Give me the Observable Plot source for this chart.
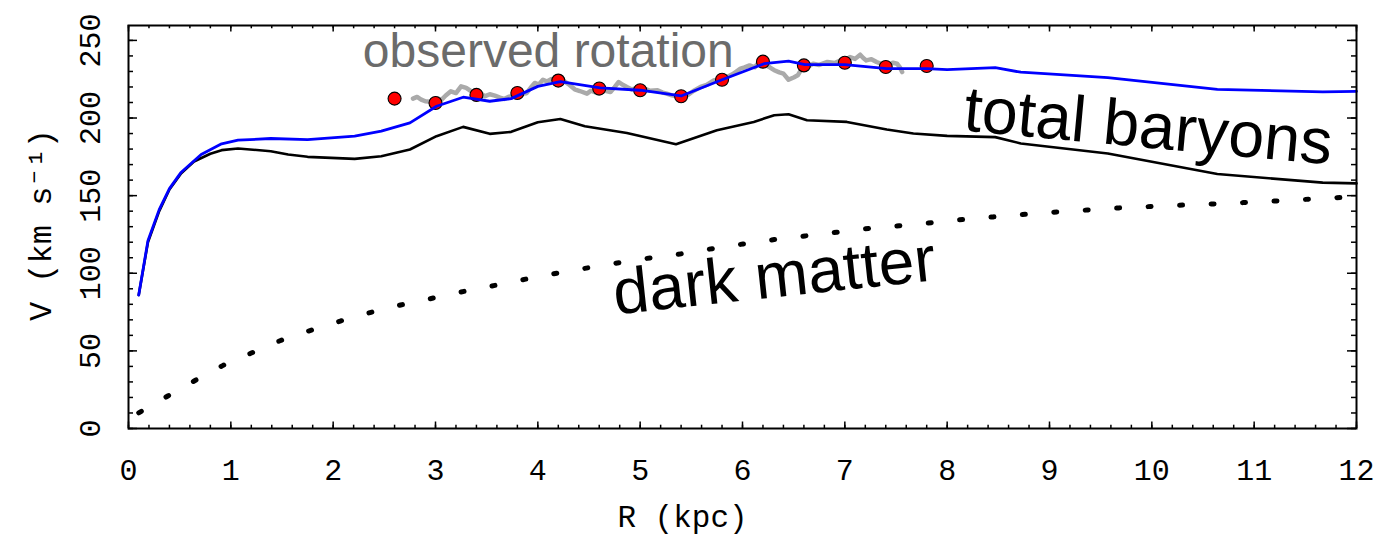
<!DOCTYPE html>
<html>
<head>
<meta charset="utf-8">
<script src="https://cdn.jsdelivr.net/npm/d3@7"></script>
<script src="https://cdn.jsdelivr.net/npm/@observablehq/plot@0.6"></script>
<style>
  html, body { margin: 0; padding: 0; background: #ffffff; }
  #chart svg { display: block; }
</style>
</head>
<body>
<div id="chart"></div>
<script>
// ---------- data ----------
const xTickValues = [0, 1, 2, 3, 4, 5, 6, 7, 8, 9, 10, 11, 12];
const yTickValues = [0, 50, 100, 150, 200, 250];

// dark matter (dotted)
const darkR = [0.1, 0.38, 0.65, 0.92, 1.2, 1.48, 1.78, 2.07, 2.37, 2.67, 2.99, 3.29, 3.59, 3.88, 4.19, 4.49, 4.8, 5.1, 5.4, 5.71, 5.98, 6.31, 6.61, 6.92, 7.23, 7.53, 7.85, 8.15, 8.45, 8.76, 9.07, 9.38, 9.68, 9.99, 10.3, 10.61, 10.92, 11.22, 11.53, 11.84, 12.0];
const darkV = [10.1, 20.8, 30.9, 40.5, 48.6, 56.5, 63.2, 69.2, 74.8, 79.7, 84.2, 88.5, 92.3, 96.2, 100.1, 103.5, 106.9, 109.9, 112.5, 115.9, 118.6, 121.7, 124.0, 126.4, 128.8, 130.6, 132.6, 134.6, 136.3, 138.0, 139.5, 140.8, 142.1, 143.0, 143.9, 144.7, 145.6, 146.6, 147.7, 148.8, 149.4];

// total baryons (black)
const baryR = [0.1, 0.19, 0.3, 0.4, 0.51, 0.64, 0.8, 0.91, 1.07, 1.39, 1.56, 1.75, 2.21, 2.47, 2.75, 3.01, 3.27, 3.53, 3.74, 4.0, 4.22, 4.46, 4.87, 5.35, 5.75, 6.11, 6.31, 6.45, 6.63, 7.02, 7.41, 7.67, 8.0, 8.47, 8.72, 9.57, 10.64, 11.67, 12.0];
const baryV = [86, 120, 140, 154, 164, 172, 177, 179.3, 180.4, 178.6, 176.5, 175, 173.7, 175.4, 179.7, 188.3, 194.3, 189.8, 191.1, 197.3, 199.4, 194.7, 190.4, 183.1, 192.1, 197.5, 201.8, 202.4, 198.6, 197.5, 192.6, 190, 188.5, 187.7, 183.6, 177.2, 163.9, 158.4, 157.9];

// total model (blue)
const totalR = [0.1, 0.19, 0.3, 0.4, 0.51, 0.71, 0.91, 1.07, 1.39, 1.75, 2.21, 2.47, 2.75, 3.01, 3.27, 3.53, 3.74, 4.0, 4.22, 4.61, 5.0, 5.4, 5.8, 6.21, 6.45, 6.61, 7.0, 7.41, 7.8, 8.0, 8.47, 8.72, 9.57, 10.64, 11.67, 12.0];
const totalV = [86, 121, 141, 154.5, 164.7, 176.5, 183.4, 185.7, 186.8, 186.1, 188.3, 191.5, 196.9, 207.6, 213.4, 210.8, 212.5, 220.4, 223.4, 219.4, 217.9, 214.2, 224.7, 235, 236.7, 234.4, 234.4, 231.8, 231.8, 231.2, 232.4, 229.5, 226, 218.5, 216.8, 217.2];

// observed rotation (grey, noisy)
const obsR = [2.78, 2.82, 2.86, 2.9, 2.96, 3.01, 3.06, 3.1, 3.15, 3.2, 3.25, 3.3, 3.34, 3.38, 3.43, 3.48, 3.53, 3.58, 3.63, 3.67, 3.72, 3.77, 3.83, 3.89, 3.93, 3.97, 4.01, 4.05, 4.09, 4.13, 4.18, 4.22, 4.26, 4.31, 4.36, 4.41, 4.48, 4.52, 4.55, 4.6, 4.65, 4.71, 4.75, 4.79, 4.83, 4.87, 4.92, 4.98, 5.04, 5.1, 5.17, 5.22, 5.26, 5.31, 5.36, 5.41, 5.46, 5.52, 5.59, 5.65, 5.72, 5.78, 5.85, 5.91, 5.98, 6.02, 6.07, 6.12, 6.17, 6.22, 6.27, 6.31, 6.36, 6.4, 6.45, 6.5, 6.54, 6.57, 6.62, 6.69, 6.75, 6.83, 6.9, 6.96, 7.0, 7.05, 7.1, 7.15, 7.18, 7.21, 7.26, 7.31, 7.37, 7.43, 7.47, 7.51, 7.54, 7.56];
const obsV = [212.5, 213.6, 211.9, 210.8, 210.4, 212.8, 211.9, 214.5, 217.2, 216.1, 220.4, 219.4, 217.6, 215.7, 216.6, 214, 215.3, 214.4, 213.1, 212.3, 213.8, 214.4, 215.6, 216, 219.5, 222.6, 221.6, 224.7, 223.5, 225.1, 223.9, 225.5, 223.6, 221.3, 218.5, 217.4, 215.7, 217.6, 216.8, 215.6, 217.7, 216.8, 219.9, 223.2, 221.4, 220, 218.4, 219.8, 218.9, 217.5, 217.9, 216.4, 215.7, 214.6, 214, 215.8, 214.6, 217.4, 220, 221.3, 224.3, 223.6, 226.4, 228.5, 231.8, 232.6, 233.9, 232.7, 236.7, 234.3, 232.5, 230.8, 229.4, 228.6, 224.7, 226.1, 227.5, 230.8, 232.3, 235, 234.2, 236.1, 235.4, 237.1, 236.4, 239.3, 238.1, 240.8, 238.7, 237.1, 237.9, 236.1, 234.6, 233.9, 235.6, 235, 232.4, 229.6];

// binned points (red)
const pointR = [2.6, 3.0, 3.4, 3.8, 4.2, 4.6, 5.0, 5.4, 5.8, 6.2, 6.6, 7.0, 7.4, 7.8];
const pointV = [212.5, 209.7, 214.9, 216.1, 224.1, 219, 217.9, 214, 224.7, 236.3, 233.9, 235.6, 232.9, 233.5];

// ---------- build tables ----------
const zipRV = (R, V) => R.map((r, i) => ({R: r, V: V[i]}));
const dark = zipRV(darkR, darkV);
const bary = zipRV(baryR, baryV);
const total = zipRV(totalR, totalV);
const obs = zipRV(obsR, obsV);
const pts = zipRV(pointR, pointV);

const xMinor = d3.range(0, 60.5, 1).map(i => i / 5);
const yMinor = d3.range(0, 26, 1).map(i => i * 10);

const W = 1383, H = 536;
const mT = 25, mR = 27, mB = 108, mL = 128;
const fw = W - mL - mR, fh = H - mT - mB;
const tickFont = "Liberation Mono, Courier New, monospace";
const sansFont = "Liberation Sans, Arial, Helvetica, sans-serif";

const chart = Plot.plot({
  width: W,
  height: H,
  marginTop: mT, marginRight: mR, marginBottom: mB, marginLeft: mL,
  x: {domain: [0, 12], axis: null},
  y: {domain: [0, 259.6], axis: null},
  style: {background: "#ffffff", overflow: "visible"},
  marks: [
    // dark matter dotted
    Plot.line(dark, {x: "R", y: "V", stroke: "black", strokeWidth: 5, strokeDasharray: "3,28.5", strokeLinecap: "round", curve: "monotone-x"}),
    // baryons
    Plot.line(bary, {x: "R", y: "V", stroke: "black", strokeWidth: 2.6}),
    // observed
    Plot.line(obs, {x: "R", y: "V", stroke: "#aaaaaa", strokeWidth: 4.5, strokeLinejoin: "round"}),
    // points
    Plot.dot(pts, {x: "R", y: "V", r: 6.5, fill: "#ff0000", stroke: "black", strokeWidth: 1.1}),
    // total
    Plot.line(total, {x: "R", y: "V", stroke: "#0000ff", strokeWidth: 2.8}),
    // frame
    Plot.frame({stroke: "black", strokeWidth: 2}),
    // ticks bottom/top
    Plot.tickX(xMinor, {x: d => d, insetTop: fh - 3.3, stroke: "black", strokeWidth: 1.5}),
    Plot.tickX(xTickValues, {x: d => d, insetTop: fh - 6.5, stroke: "black", strokeWidth: 1.5}),
    Plot.tickX(xMinor, {x: d => d, insetBottom: fh - 3.3, stroke: "black", strokeWidth: 1.5}),
    Plot.tickX(xTickValues, {x: d => d, insetBottom: fh - 6.5, stroke: "black", strokeWidth: 1.5}),
    // ticks left/right
    Plot.tickY(yMinor, {y: d => d, insetRight: fw - 5, stroke: "black", strokeWidth: 1.5}),
    Plot.tickY(yTickValues, {y: d => d, insetRight: fw - 9, stroke: "black", strokeWidth: 1.5}),
    Plot.tickY(yMinor, {y: d => d, insetLeft: fw - 5, stroke: "black", strokeWidth: 1.5}),
    Plot.tickY(yTickValues, {y: d => d, insetLeft: fw - 9, stroke: "black", strokeWidth: 1.5}),
    // tick labels
    Plot.text(xTickValues, {x: d => d, text: d => String(d), frameAnchor: "bottom", dy: 42, lineAnchor: "middle", textAnchor: "middle", fontSize: 30, fontFamily: tickFont, fill: "black"}),
    Plot.text(yTickValues, {y: d => d, text: d => String(d), frameAnchor: "left", dx: -38, rotate: -90, lineAnchor: "middle", textAnchor: "middle", fontSize: 30, fontFamily: tickFont, fill: "black"}),
    // axis labels
    Plot.text(["R (kpc)"], {frameAnchor: "bottom", dy: 89, dx: -60, lineAnchor: "middle", textAnchor: "middle", fontSize: 31, fontFamily: tickFont, fill: "black"}),
    Plot.text(["V (km s\u207B\u00B9)"], {frameAnchor: "left", dx: -88, dy: -2, rotate: -90, lineAnchor: "middle", textAnchor: "middle", fontSize: 32, fontFamily: tickFont, fill: "black"}),
    // annotations
    Plot.text(["observed rotation"], {x: 2.29, y: 232.6, textAnchor: "start", lineAnchor: "bottom", fontSize: 48, fontFamily: sansFont, fill: "#6b6b6b"}),
    Plot.text(["total baryons"], {x: 8.15, y: 192, rotate: 5.3, textAnchor: "start", lineAnchor: "bottom", fontSize: 64.5, fontFamily: sansFont, fill: "black"}),
    Plot.text(["dark matter"], {x: 4.76, y: 73.5, rotate: -6.1, textAnchor: "start", lineAnchor: "bottom", fontSize: 64, fontFamily: sansFont, fill: "black"})
  ]
});
document.getElementById("chart").appendChild(chart);
</script>
</body>
</html>
